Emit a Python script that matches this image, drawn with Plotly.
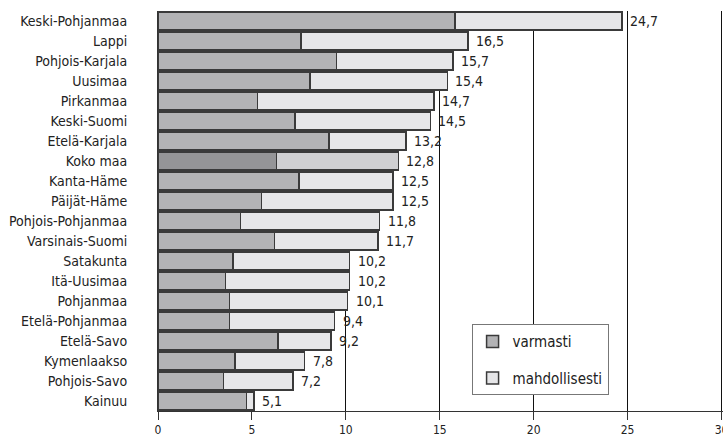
import plotly.graph_objects as go

categories = ["Keski-Pohjanmaa", "Lappi", "Pohjois-Karjala", "Uusimaa", "Pirkanmaa",
              "Keski-Suomi", "Etelä-Karjala", "Koko maa", "Kanta-Häme", "Päijät-Häme",
              "Pohjois-Pohjanmaa", "Varsinais-Suomi", "Satakunta", "Itä-Uusimaa",
              "Pohjanmaa", "Etelä-Pohjanmaa", "Etelä-Savo", "Kymenlaakso",
              "Pohjois-Savo", "Kainuu"]
varmasti = [15.8, 7.6, 9.5, 8.1, 5.3, 7.3, 9.1, 6.3, 7.5, 5.5,
            4.4, 6.2, 4.0, 3.6, 3.8, 3.8, 6.4, 4.1, 3.5, 4.7]
total = [24.7, 16.5, 15.7, 15.4, 14.7, 14.5, 13.2, 12.8, 12.5, 12.5,
         11.8, 11.7, 10.2, 10.2, 10.1, 9.4, 9.2, 7.8, 7.2, 5.1]
mahdollisesti = [round(t - v, 1) for t, v in zip(total, varmasti)]
x_ticks = [0, 5, 10, 15, 20, 25, 30]

# bottom-to-top order for plotly
cats = categories[::-1]
v = varmasti[::-1]
m = mahdollisesti[::-1]
t = total[::-1]

dark = ["#959597" if c == "Koko maa" else "#b3b3b5" for c in cats]
light = ["#d0d0d2" if c == "Koko maa" else "#e6e6e8" for c in cats]

FONT = "Liberation Sans Narrow, DejaVu Sans Condensed, Liberation Sans, Arial, sans-serif"
line = dict(color="#3a3a3a", width=1.5)

fig = go.Figure()
fig.add_trace(go.Bar(y=cats, x=v, orientation="h", name="varmasti",
                     marker=dict(color=dark, line=line), legendgroup="a"))
fig.add_trace(go.Bar(y=cats, x=m, orientation="h", name="mahdollisesti",
                     marker=dict(color=light, line=line), legendgroup="b"))

for c, tv in zip(cats, t):
    fig.add_annotation(x=tv, y=c, text=f"{tv:.1f}".replace(".", ","),
                       xanchor="left", yanchor="middle", xshift=6, showarrow=False,
                       font=dict(family=FONT, size=14, color="#222"))

fig.update_layout(
    width=723, height=439,
    margin=dict(l=158, r=0, t=11, b=28),
    barmode="stack", bargap=0.12,
    plot_bgcolor="white", paper_bgcolor="white",
    font=dict(family=FONT, size=14, color="#222"),
    showlegend=True,
    legend=dict(x=0.555, y=0.217, xanchor="left", yanchor="top",
                bgcolor="white", bordercolor="#777", borderwidth=1,
                font=dict(family=FONT, size=15, color="#222"),
                traceorder="grouped", tracegroupgap=14, itemwidth=30),
    xaxis=dict(range=[0, 30.08], tickvals=x_ticks, ticktext=[str(x) for x in x_ticks],
               showgrid=True, gridcolor="#111", gridwidth=1,
               showline=True, linecolor="#333", linewidth=1,
               ticks="outside", ticklen=8, tickcolor="#333",
               tickfont=dict(family=FONT, size=12, color="#222"),
               ticklabeloverflow="allow",
               zeroline=False, layer="below traces", automargin=False),
    yaxis=dict(showline=True, linecolor="#333", linewidth=1, ticks="",
               ticklabelstandoff=27, showgrid=False, automargin=False,
               tickfont=dict(family=FONT, size=14, color="#222")),
)

fig.write_html("out.html", config={"displayModeBar": False},
               post_script="document.body.style.margin='0';document.body.style.overflow='hidden';")
